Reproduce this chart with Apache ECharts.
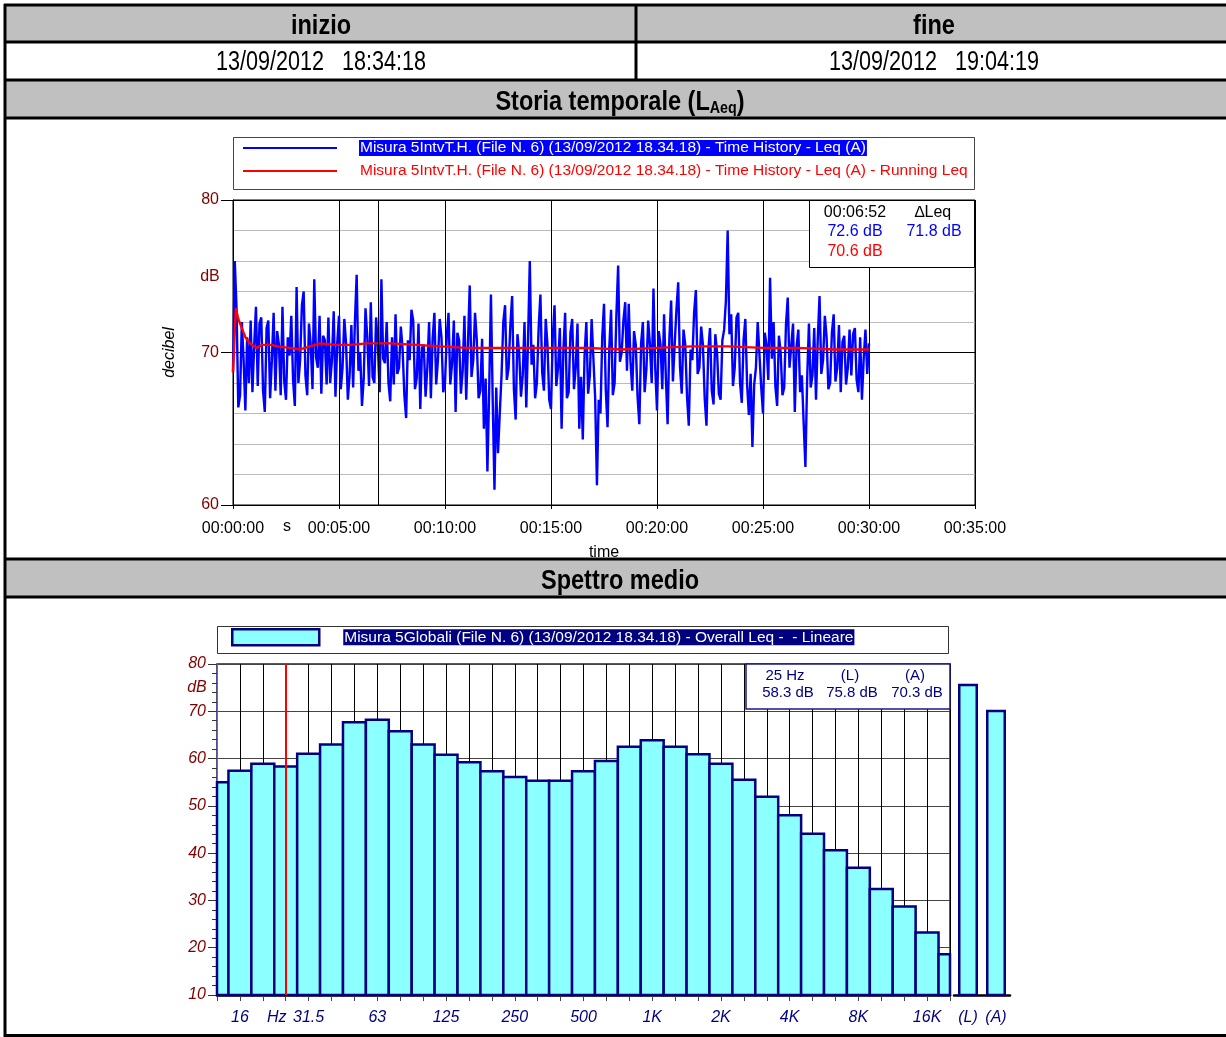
<!DOCTYPE html>
<html><head><meta charset="utf-8">
<script src="https://cdn.jsdelivr.net/npm/echarts/dist/echarts.min.js"></script>
<style>html,body{margin:0;padding:0;background:#fff}#c{width:1226px;height:1037px}</style>
</head><body><div id="c"></div>
<script>
// ---------------- DATA ----------------
const startText = '13/09/2012   18:34:18';
const endText = '13/09/2012   19:04:19';
const timeStepSec = 5;
// Time history Leq(A), one value every 5 s (00:00:00 .. 00:30:00)
const leqA = [
68.7,76.0,72.9,66.4,67.2,72.0,69.5,66.2,71.0,68.0,72.1,67.4,70.5,73.0,67.8,71.9,72.3,67.5,66.1,71.6,
72.1,67.0,69.5,72.6,67.5,71.4,70.5,67.2,73.0,68.1,66.9,71.0,69.8,72.4,68.2,66.5,74.3,68.0,69.5,73.1,
74.0,68.5,67.2,71.9,70.5,67.6,74.8,69.7,69.0,72.4,67.3,71.1,70.8,67.9,72.3,68.0,69.5,72.7,67.1,70.6,
72.4,67.6,69.0,72.2,70.6,66.9,68.5,71.8,67.7,72.0,75.1,68.8,70.0,66.5,68.3,72.9,71.0,67.8,73.3,68.4,
68.0,72.3,70.5,67.4,74.8,69.6,69.3,72.0,68.0,66.8,71.0,67.9,72.5,68.6,69.0,71.7,70.2,67.2,65.7,70.8,
69.5,72.8,72.1,67.6,68.3,71.9,66.3,70.3,70.5,67.1,69.0,72.0,67.0,70.9,72.6,67.9,69.5,72.2,71.0,67.4,
68.0,71.1,72.6,67.9,69.3,72.1,66.1,71.3,70.8,67.3,68.8,72.4,66.9,70.6,74.4,68.4,69.5,72.6,70.8,67.0,
67.5,70.9,65.0,68.3,62.2,67.5,73.8,66.9,61.0,67.7,63.4,66.0,68.5,72.0,73.1,68.2,69.0,71.8,73.7,67.6,
65.6,71.2,70.0,67.1,68.5,72.0,66.4,70.8,76.0,69.2,70.5,67.0,68.0,71.6,73.8,68.7,67.5,72.2,70.5,66.9,
66.3,71.0,73.1,67.8,69.0,71.6,65.0,70.1,72.6,67.0,67.4,71.3,72.2,67.6,69.0,71.9,65.0,68.4,64.3,69.8,
72.0,67.3,68.5,72.2,72.3,67.0,61.3,66.9,66.0,71.0,73.2,67.6,65.1,70.3,72.8,67.2,68.0,72.4,75.7,69.4,
70.0,72.1,73.3,68.8,73.2,69.4,67.5,71.4,70.5,67.1,65.3,70.6,72.0,67.4,68.9,72.1,70.5,68.0,74.2,69.0,
66.2,71.4,70.5,67.6,72.5,68.4,65.3,70.9,73.4,68.1,70.5,72.8,74.6,69.1,67.3,71.5,70.5,67.1,65.2,70.2,
69.5,72.6,74.1,68.6,69.0,71.7,70.5,67.0,65.2,70.1,71.6,67.5,66.6,71.2,70.0,67.3,66.9,70.8,71.5,73.4,
78.0,71.2,72.5,67.8,69.0,72.3,72.6,68.0,66.7,70.8,72.2,67.9,65.9,68.6,63.8,67.9,69.0,72.0,72.1,67.7,
66.0,71.3,70.5,68.2,74.9,69.6,72.0,67.8,66.5,71.1,70.0,67.2,67.7,71.8,73.6,69.0,69.0,71.9,66.1,70.4,
71.5,67.4,68.5,65.4,62.5,68.3,71.9,67.7,68.5,71.6,66.9,70.9,73.7,68.6,69.5,72.4,71.0,67.6,68.0,71.3,
72.5,68.1,69.0,71.8,67.4,70.7,71.1,67.9,69.0,71.5,68.5,71.2,71.6,68.2,67.4,71.0,66.9,69.6,71.5,68.6,
70.6];
// Running Leq (seconds, dB)
const runTimes = [0,8,15,25,35,48,67,82,110,125,161,190,246,290,331,380,444,521,586,662,804,897,1000,1100,1200,1300,1400,1500,1600,1700,1800];
const runLeq = [68.7,72.9,72.2,71.6,71.0,70.6,70.3,70.5,70.5,70.4,70.3,70.2,70.6,70.5,70.5,70.6,70.6,70.5,70.4,70.3,70.3,70.3,70.3,70.2,70.3,70.4,70.4,70.3,70.3,70.2,70.2];
const cursorTime = 412; // 00:06:52
const cursorInfo = ['00:06:52', '\u2206Leq', '72.6 dB', '71.8 dB', '70.6 dB'];

// Spectrum (1/3 octave bands 12.5 Hz .. 20 kHz)
const bands = ['12.5','16','20','25','31.5','40','50','63','80','100','125','160','200','250','315','400','500','630','800','1K','1.25K','1.6K','2K','2.5K','3.15K','4K','5K','6.3K','8K','10K','12.5K','16K','20K'];
const bandLeq = [55.0,57.4,58.9,58.3,61.0,63.0,67.7,68.2,65.8,63.0,60.8,59.2,57.3,56.1,55.3,55.3,57.3,59.5,62.5,63.9,62.5,60.9,58.9,55.5,51.9,48.0,44.1,40.6,36.9,32.4,28.7,23.2,18.6];
const freqTickLabels = ['','16','','Hz','31.5','','','63','','','125','','','250','','','500','','','1K','','','2K','','','4K','','','8K','','','16K',''];
const overallLabels = ['(L)','(A)'];
const overallLeq = [75.8, 70.3];
const cursorBand = 3; // 25 Hz

const nameBlue = 'Misura 5IntvT.H. (File N. 6) (13/09/2012 18.34.18) - Time History - Leq (A)';
const nameRed = 'Misura 5IntvT.H. (File N. 6) (13/09/2012 18.34.18) - Time History - Leq (A) - Running Leq';
const nameBar = 'Misura 5Globali (File N. 6) (13/09/2012 18.34.18) - Overall Leq -  - Lineare';

// ---------------- CHART ----------------
const FONT = "'Liberation Sans', Arial, sans-serif";
const pad = n => String(n).padStart(2, '0');
const fmtTime = v => pad(Math.floor(v / 3600)) + ':' + pad(Math.floor(v % 3600 / 60)) + ':' + pad(v % 60);
const gridColors = ['#000','#bbb','#bbb','#bbb','#bbb','#000','#bbb','#bbb','#bbb','#bbb','#000'];
const barFill = '#8cffff', navy = '#000080', darkRed = '#800000';

function txt(x, y, text, font, fill, sx) {
  return {type:'text', x:x, y:y, z:100, scaleX: sx || 1,
    style:{text:text, font:font, fill:fill, align:'center', verticalAlign:'middle', textAlign:'center', textVerticalAlign:'middle'}};
}
function hline(y, x1, x2, w) { return {type:'line', z:50, shape:{x1:x1, y1:y, x2:x2, y2:y}, style:{stroke:'#000', lineWidth:w}}; }
function vline(x, y1, y2, w) { return {type:'line', z:50, shape:{x1:x, y1:y1, x2:x, y2:y2}, style:{stroke:'#000', lineWidth:w}}; }

const graphics = [
  {type:'rect', z:-10, shape:{x:5, y:5, width:1221, height:37}, style:{fill:'#c0c0c0'}},
  {type:'rect', z:-10, shape:{x:5, y:80, width:1221, height:38}, style:{fill:'#c0c0c0'}},
  {type:'rect', z:-10, shape:{x:5, y:559, width:1221, height:38}, style:{fill:'#c0c0c0'}},
  hline(5, 4, 1226, 3), hline(42, 4, 1226, 3), hline(80, 4, 1226, 3), hline(118, 4, 1226, 3),
  hline(559, 4, 1226, 3), hline(597, 4, 1226, 3), hline(1035.5, 4, 1226, 3),
  vline(5, 4, 1037, 3), vline(636, 5, 80, 3),
  txt(321, 26, 'inizio', 'bold 28px ' + FONT, '#000', 0.84),
  txt(934, 26, 'fine', 'bold 28px ' + FONT, '#000', 0.84),
  txt(321, 63, startText, '27px ' + FONT, '#000', 0.8),
  txt(934, 63, endText, '27px ' + FONT, '#000', 0.8),
  {type:'text', x:620, y:102, z:100, scaleX:0.84, style:{text:'{a|Storia temporale (L}{s|Aeq}{a|)}', align:'center', verticalAlign:'middle', textAlign:'center', textVerticalAlign:'middle', fill:'#000',
    rich:{a:{font:'bold 28px ' + FONT, fill:'#000', color:'#000'}, s:{font:'bold 17px ' + FONT, fill:'#000', color:'#000', padding:[12,0,0,0]}}}},
  txt(620, 581, 'Spettro medio', 'bold 28px ' + FONT, '#000', 0.84),
  // time history legend frame
  {type:'rect', z:1, shape:{x:233.5, y:137.5, width:741, height:52}, style:{fill:'none', stroke:'#444', lineWidth:1}},
  // time history info box
  {type:'rect', z:90, shape:{x:809.5, y:200.5, width:165, height:67}, style:{fill:'#fff', stroke:'#000', lineWidth:1}},
  txt(855, 213, cursorInfo[0], '16px ' + FONT, '#000'),
  txt(933, 213, cursorInfo[1], '16px ' + FONT, '#000'),
  txt(855, 232, cursorInfo[2], '16px ' + FONT, '#0000ff'),
  txt(934, 232, cursorInfo[3], '16px ' + FONT, '#0000ff'),
  txt(855, 252, cursorInfo[4], '16px ' + FONT, '#ff0000'),
  txt(210, 277, 'dB', '16px ' + FONT, darkRed),
  txt(287, 527, 's', '16px ' + FONT, '#000'),
  // spectrum legend frame
  {type:'rect', z:1, shape:{x:217.5, y:626.5, width:731, height:27}, style:{fill:'none', stroke:'#333', lineWidth:1}},
  // spectrum info box
  {type:'rect', z:90, shape:{x:746, y:664, width:204, height:45}, style:{fill:'#fff', stroke:'#1a1a80', lineWidth:1.5}},
  txt(785, 676, bands[cursorBand] + ' Hz', '15px ' + FONT, navy),
  txt(850, 676, overallLabels[0], '15px ' + FONT, navy),
  txt(915, 676, overallLabels[1], '15px ' + FONT, navy),
  txt(788, 693, bandLeq[cursorBand].toFixed(1) + ' dB', '15px ' + FONT, navy),
  txt(852, 693, overallLeq[0].toFixed(1) + ' dB', '15px ' + FONT, navy),
  txt(917, 693, overallLeq[1].toFixed(1) + ' dB', '15px ' + FONT, navy),
  txt(197, 688, 'dB', 'italic 16px ' + FONT, darkRed)
];

function renderBand(params, api) {
  const i = api.value(0), v = api.value(1);
  const a = api.coord([i - 0.5, v]);
  const b = api.coord([i + 0.5, 10]);
  const cs = params.coordSys;
  const r = echarts.graphic.clipRectByRect(
    {x:a[0], y:a[1], width:b[0] - a[0], height:b[1] - a[1]},
    {x:cs.x, y:cs.y, width:cs.width, height:cs.height});
  if (!r) return null;
  return {type:'rect', shape:r, style:{fill:barFill, stroke:navy, lineWidth:2.5}};
}

const legendText = (color, bg, gap) => ({rich:{g:{width:gap}, t:{color:color, backgroundColor:bg, fontSize:15.5, fontFamily:FONT, lineHeight:16, padding:[0,1,0,1]}}});

const chart = echarts.init(document.getElementById('c'), null, {renderer:'canvas'});
const option = {
  animation: false,
  backgroundColor: '#fff',
  textStyle: {fontFamily: FONT},
  graphic: graphics,
  legend: [
    {orient:'vertical', left:243, top:140, padding:0, itemWidth:94, itemHeight:2, itemGap:7, selectedMode:false, icon:'rect',
     formatter: n => '{g|}{t|' + n + '}',
     data:[
       {name:nameBlue, itemStyle:{color:'#0000ff'}, textStyle:legendText('#fff', '#0000ff', 17)},
       {name:nameRed, itemStyle:{color:'#ff0000'}, textStyle:legendText('#ff0000', 'transparent', 17)}
     ]},
    {orient:'horizontal', left:231, top:628, padding:0, itemWidth:87, itemHeight:16, selectedMode:false, icon:'rect',
     itemStyle:{color:barFill, borderColor:navy, borderWidth:2.5},
     formatter: n => '{g|}{t|' + n + '}',
     data:[{name:nameBar, textStyle:legendText('#fff', navy, 19)}]}
  ],
  grid: [
    {left:233, top:200, width:742, height:305, show:true, borderColor:'#000', borderWidth:1},
    {left:217, top:664, width:733, height:331, show:true, borderColor:'#1a1a70', borderWidth:1.5},
    {left:954, top:664, width:56, height:331}
  ],
  xAxis: [
    {gridIndex:0, type:'value', min:0, max:2100, interval:300,
     axisLine:{lineStyle:{color:'#000'}}, axisTick:{length:4, lineStyle:{color:'#000'}},
     axisLabel:{color:'#000', fontSize:16, margin:16, formatter: fmtTime},
     splitLine:{lineStyle:{color:'#000', width:1}},
     name:'time', nameLocation:'middle', nameGap:40, nameTextStyle:{color:'#000', fontSize:16}},
    {gridIndex:1, type:'value', min:0, max:32, interval:1,
     axisLine:{lineStyle:{color:'#000', width:2.5}}, axisTick:{length:6, lineStyle:{color:'#444'}},
     axisLabel:{color:navy, fontStyle:'italic', fontSize:16, margin:15, showMinLabel:true, showMaxLabel:true,
       formatter: v => { const l = freqTickLabels[v] || ''; return l === 'Hz' ? '{hz|Hz}' : l; },
       rich:{hz:{color:navy, fontStyle:'italic', fontSize:16, padding:[0,18,0,0]}}},
     splitLine:{lineStyle:{color:'#000', width:1}}},
    {gridIndex:2, type:'category', data:overallLabels,
     axisLine:{lineStyle:{color:'#000', width:2.5}}, axisTick:{show:false},
     axisLabel:{color:navy, fontStyle:'italic', fontSize:16, margin:15}}
  ],
  yAxis: [
    {gridIndex:0, type:'value', min:60, max:80, interval:2,
     axisLabel:{show:false}, axisTick:{show:false}, axisLine:{show:false},
     splitLine:{lineStyle:{color:gridColors, width:1}}},
    {gridIndex:0, type:'value', min:60, max:80, interval:10, position:'left',
     axisLine:{show:true, lineStyle:{color:'#000'}}, axisTick:{show:true, length:12, lineStyle:{color:'#000'}},
     axisLabel:{color:darkRed, fontSize:16, margin:14}, splitLine:{show:false},
     name:'decibel', nameLocation:'middle', nameGap:55, nameRotate:90,
     nameTextStyle:{fontStyle:'italic', fontSize:16, color:'#000'}},
    {gridIndex:1, type:'value', min:10, max:80, interval:10,
     axisLine:{show:true, lineStyle:{color:'#6a6aaa', width:1}},
     axisTick:{show:true, length:9, lineStyle:{color:'#333'}},
     minorTick:{show:true, splitNumber:5, length:5, lineStyle:{color:'#333'}},
     axisLabel:{color:darkRed, fontStyle:'italic', fontSize:16, margin:11},
     splitLine:{lineStyle:{color:'#444', width:1}}},
    {gridIndex:2, type:'value', min:10, max:80, show:false}
  ],
  series: [
    {type:'line', name:nameBlue, xAxisIndex:0, yAxisIndex:0, symbol:'none', z:3,
     data: leqA.map((v, i) => [i * timeStepSec, v]),
     lineStyle:{color:'#0000ff', width:2.4}, itemStyle:{color:'#0000ff'},
     markLine:{silent:true, symbol:'none', label:{show:false}, lineStyle:{color:'#000', width:1, type:'solid'}, data:[{xAxis:cursorTime}]}},
    {type:'line', name:nameRed, xAxisIndex:0, yAxisIndex:0, symbol:'none', z:4,
     data: runTimes.map((t, i) => [t, runLeq[i]]),
     lineStyle:{color:'#ff0000', width:2.4}, itemStyle:{color:'#ff0000'}},
    {type:'custom', name:nameBar, xAxisIndex:1, yAxisIndex:2, z:3,
     data: bandLeq.map((v, i) => [i, v]), encode:{x:0, y:1},
     renderItem: renderBand,
     itemStyle:{color:barFill, borderColor:navy, borderWidth:2.5},
     markLine:{silent:true, symbol:'none', label:{show:false}, z:10, lineStyle:{color:'#ff0000', width:2, type:'solid'}, data:[{xAxis:cursorBand}]}},
    {type:'bar', name:'overall', xAxisIndex:2, yAxisIndex:3, barWidth:20,
     data: overallLeq,
     itemStyle:{color:barFill, borderColor:navy, borderWidth:2.5}}
  ]
};
chart.setOption(option);
</script></body></html>
